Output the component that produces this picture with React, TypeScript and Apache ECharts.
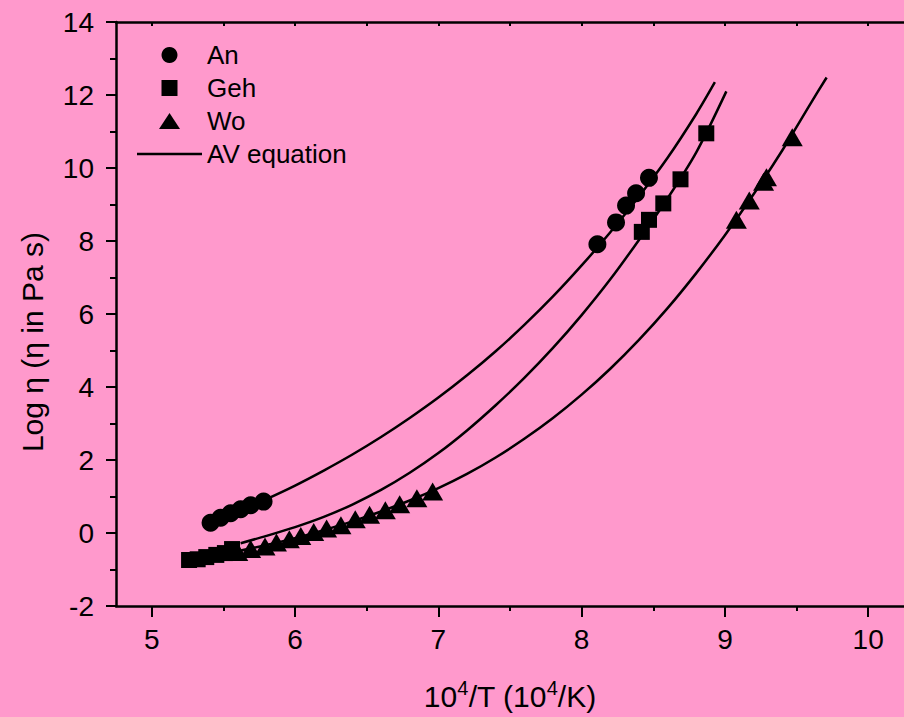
import React, { useEffect, useRef } from 'react';
import * as echarts from 'echarts';

// Measured points
const anX = [5.41, 5.48, 5.55, 5.62, 5.69, 5.78, 8.11, 8.24, 8.31, 8.38, 8.47];
const anY = [0.28, 0.42, 0.54, 0.65, 0.76, 0.86, 7.91, 8.51, 8.97, 9.31, 9.73];

const gehX = [5.26, 5.32, 5.38, 5.45, 5.51, 5.56, 8.42, 8.47, 8.57, 8.69, 8.87];
const gehY = [-0.74, -0.72, -0.66, -0.6, -0.55, -0.44, 8.25, 8.58, 9.03, 9.69, 10.95];

const woX = [5.6, 5.69, 5.79, 5.87, 5.96, 6.04, 6.13, 6.22, 6.32, 6.42, 6.52, 6.63, 6.73, 6.85, 6.96, 9.08, 9.17, 9.27, 9.29, 9.47];
const woY = [-0.52, -0.44, -0.37, -0.26, -0.17, -0.08, 0.03, 0.12, 0.21, 0.38, 0.5, 0.62, 0.79, 0.95, 1.14, 8.58, 9.11, 9.62, 9.75, 10.84];

// AV equation curves
const avAnX = [5.4, 5.6, 5.8, 6.0, 6.2, 6.4, 6.6, 6.8, 7.0, 7.2, 7.4, 7.6, 7.8, 8.0, 8.2, 8.4, 8.6, 8.8, 8.93];
const avAnY = [0.28, 0.59, 0.93, 1.3, 1.71, 2.15, 2.63, 3.15, 3.71, 4.32, 4.98, 5.7, 6.48, 7.33, 8.24, 9.22, 10.28, 11.48, 12.35];

const avGehX = [5.62, 5.8, 6.0, 6.2, 6.4, 6.6, 6.8, 7.0, 7.2, 7.4, 7.6, 7.8, 8.0, 8.2, 8.4, 8.6, 8.8, 9.01];
const avGehY = [-0.28, -0.08, 0.16, 0.44, 0.78, 1.18, 1.65, 2.19, 2.81, 3.5, 4.25, 5.07, 5.97, 6.95, 8.03, 9.17, 10.43, 12.1];

const avWoX = [5.6, 5.8, 6.0, 6.2, 6.4, 6.6, 6.8, 7.0, 7.2, 7.4, 7.6, 7.8, 8.0, 8.2, 8.4, 8.6, 8.8, 9.0, 9.2, 9.4, 9.6, 9.71];
const avWoY = [-0.5, -0.33, -0.14, 0.08, 0.32, 0.59, 0.89, 1.23, 1.62, 2.07, 2.58, 3.15, 3.79, 4.5, 5.29, 6.16, 7.12, 8.16, 9.28, 10.48, 11.78, 12.48];

// Axis ticks
const xMajor = [5, 6, 7, 8, 9, 10];
const xMinor = [5.5, 6.5, 7.5, 8.5, 9.5];
const xTop = [5, 5.5, 6, 6.5, 7, 7.5, 8, 8.5, 9, 9.5, 10];

const pairs = (xs: number[], ys: number[]) => xs.map((x, i) => [x, ys[i]]);

const FONT = "'Liberation Sans', Arial, Helvetica, sans-serif";

export default function App() {
  const ref = useRef<HTMLDivElement>(null);
  useEffect(() => {
    const chart = echarts.init(ref.current!, null, { renderer: 'svg' });
    const lineCommon = {
      type: 'line',
      name: 'AV equation',
      symbol: 'none',
      showSymbol: false,
      smooth: 0.3,
      color: '#000',
      lineStyle: { color: '#000', width: 2.5 },
      xAxisIndex: 0,
      yAxisIndex: 0,
      z: 3,
    };
    const black = { color: '#000', opacity: 1 };
    chart.setOption({
      animation: false,
      backgroundColor: '#ff99cc',
      grid: { left: 116, top: 22, right: -4, bottom: 111, containLabel: false },
      legend: {
        orient: 'vertical',
        left: 132,
        top: 37,
        itemWidth: 65,
        itemHeight: 16,
        itemGap: 7,
        selectedMode: false,
        textStyle: { fontSize: 26, color: '#000', fontFamily: FONT },
        data: [
          { name: 'An', icon: 'circle', itemStyle: black },
          { name: 'Geh', icon: 'path://M0,0L16,0L16,16L0,16Z', itemStyle: black },
          { name: 'Wo', icon: 'path://M0,16L10.5,0L21,16Z', itemStyle: black },
          { name: 'AV equation', icon: 'path://M0,0L65,0L65,2.5L0,2.5Z', itemStyle: black },
        ],
      },
      xAxis: [
        {
          type: 'value',
          min: 4.75,
          max: 10.25,
          position: 'bottom',
          axisLine: { show: true, onZero: false, lineStyle: { color: '#000', width: 2.5 } },
          axisTick: { show: true, customValues: xMajor, length: 11, lineStyle: { color: '#000', width: 2 } },
          axisLabel: { show: true, customValues: xMajor, fontSize: 28, fontFamily: FONT, color: '#000', margin: 19 },
          splitLine: { show: false },
          name: '{n|10}{s|4}{n|/T (10}{s|4}{n|/K)}',
          nameLocation: 'middle',
          nameGap: 72,
          nameTextStyle: {
            rich: {
              n: { fontSize: 30, lineHeight: 36, fontFamily: FONT, color: '#000' },
              s: { fontSize: 20, lineHeight: 22, fontFamily: FONT, color: '#000', verticalAlign: 'top' },
            },
          },
        },
        {
          type: 'value',
          min: 4.75,
          max: 10.25,
          position: 'bottom',
          axisLine: { show: false, onZero: false },
          axisTick: { show: true, customValues: xMinor, length: 5, lineStyle: { color: '#000', width: 2 } },
          axisLabel: { show: false },
          splitLine: { show: false },
        },
        {
          type: 'value',
          min: 4.75,
          max: 10.25,
          position: 'top',
          axisLine: { show: true, onZero: false, lineStyle: { color: '#000', width: 2.5 } },
          axisTick: { show: true, inside: true, customValues: xTop, length: 4, lineStyle: { color: '#000', width: 2 } },
          axisLabel: { show: false },
          splitLine: { show: false },
        },
      ],
      yAxis: {
        type: 'value',
        min: -2,
        max: 14,
        interval: 2,
        axisLine: { show: true, onZero: false, lineStyle: { color: '#000', width: 2.5 } },
        axisTick: { show: true, length: 10, lineStyle: { color: '#000', width: 2 } },
        minorTick: { show: true, splitNumber: 2, length: 6, lineStyle: { color: '#000', width: 2 } },
        axisLabel: { fontSize: 28, fontFamily: FONT, color: '#000', margin: 22 },
        splitLine: { show: false },
        minorSplitLine: { show: false },
      },
      graphic: [
        {
          type: 'text',
          x: 32,
          y: 342,
          rotation: Math.PI / 2,
          style: {
            text: 'Log η (η in Pa s)',
            fontSize: 30,
            fontFamily: FONT,
            fill: '#000',
            align: 'center',
            verticalAlign: 'middle',
          },
        },
      ],
      series: [
        { ...lineCommon, data: pairs(avAnX, avAnY) },
        { ...lineCommon, data: pairs(avGehX, avGehY) },
        { ...lineCommon, data: pairs(avWoX, avWoY) },
        {
          type: 'scatter',
          name: 'An',
          symbol: 'circle',
          symbolSize: 18,
          itemStyle: black,
          data: pairs(anX, anY),
          z: 4,
        },
        {
          type: 'scatter',
          name: 'Geh',
          symbol: 'rect',
          symbolSize: 16,
          itemStyle: black,
          data: pairs(gehX, gehY),
          z: 4,
        },
        {
          type: 'scatter',
          name: 'Wo',
          symbol: 'triangle',
          symbolSize: [21, 18],
          itemStyle: black,
          data: pairs(woX, woY),
          z: 4,
        },
      ],
    });
    return () => chart.dispose();
  }, []);
  return <div ref={ref} style={{ position: 'fixed', left: 0, top: 0, width: 904, height: 717 }} />;
}
